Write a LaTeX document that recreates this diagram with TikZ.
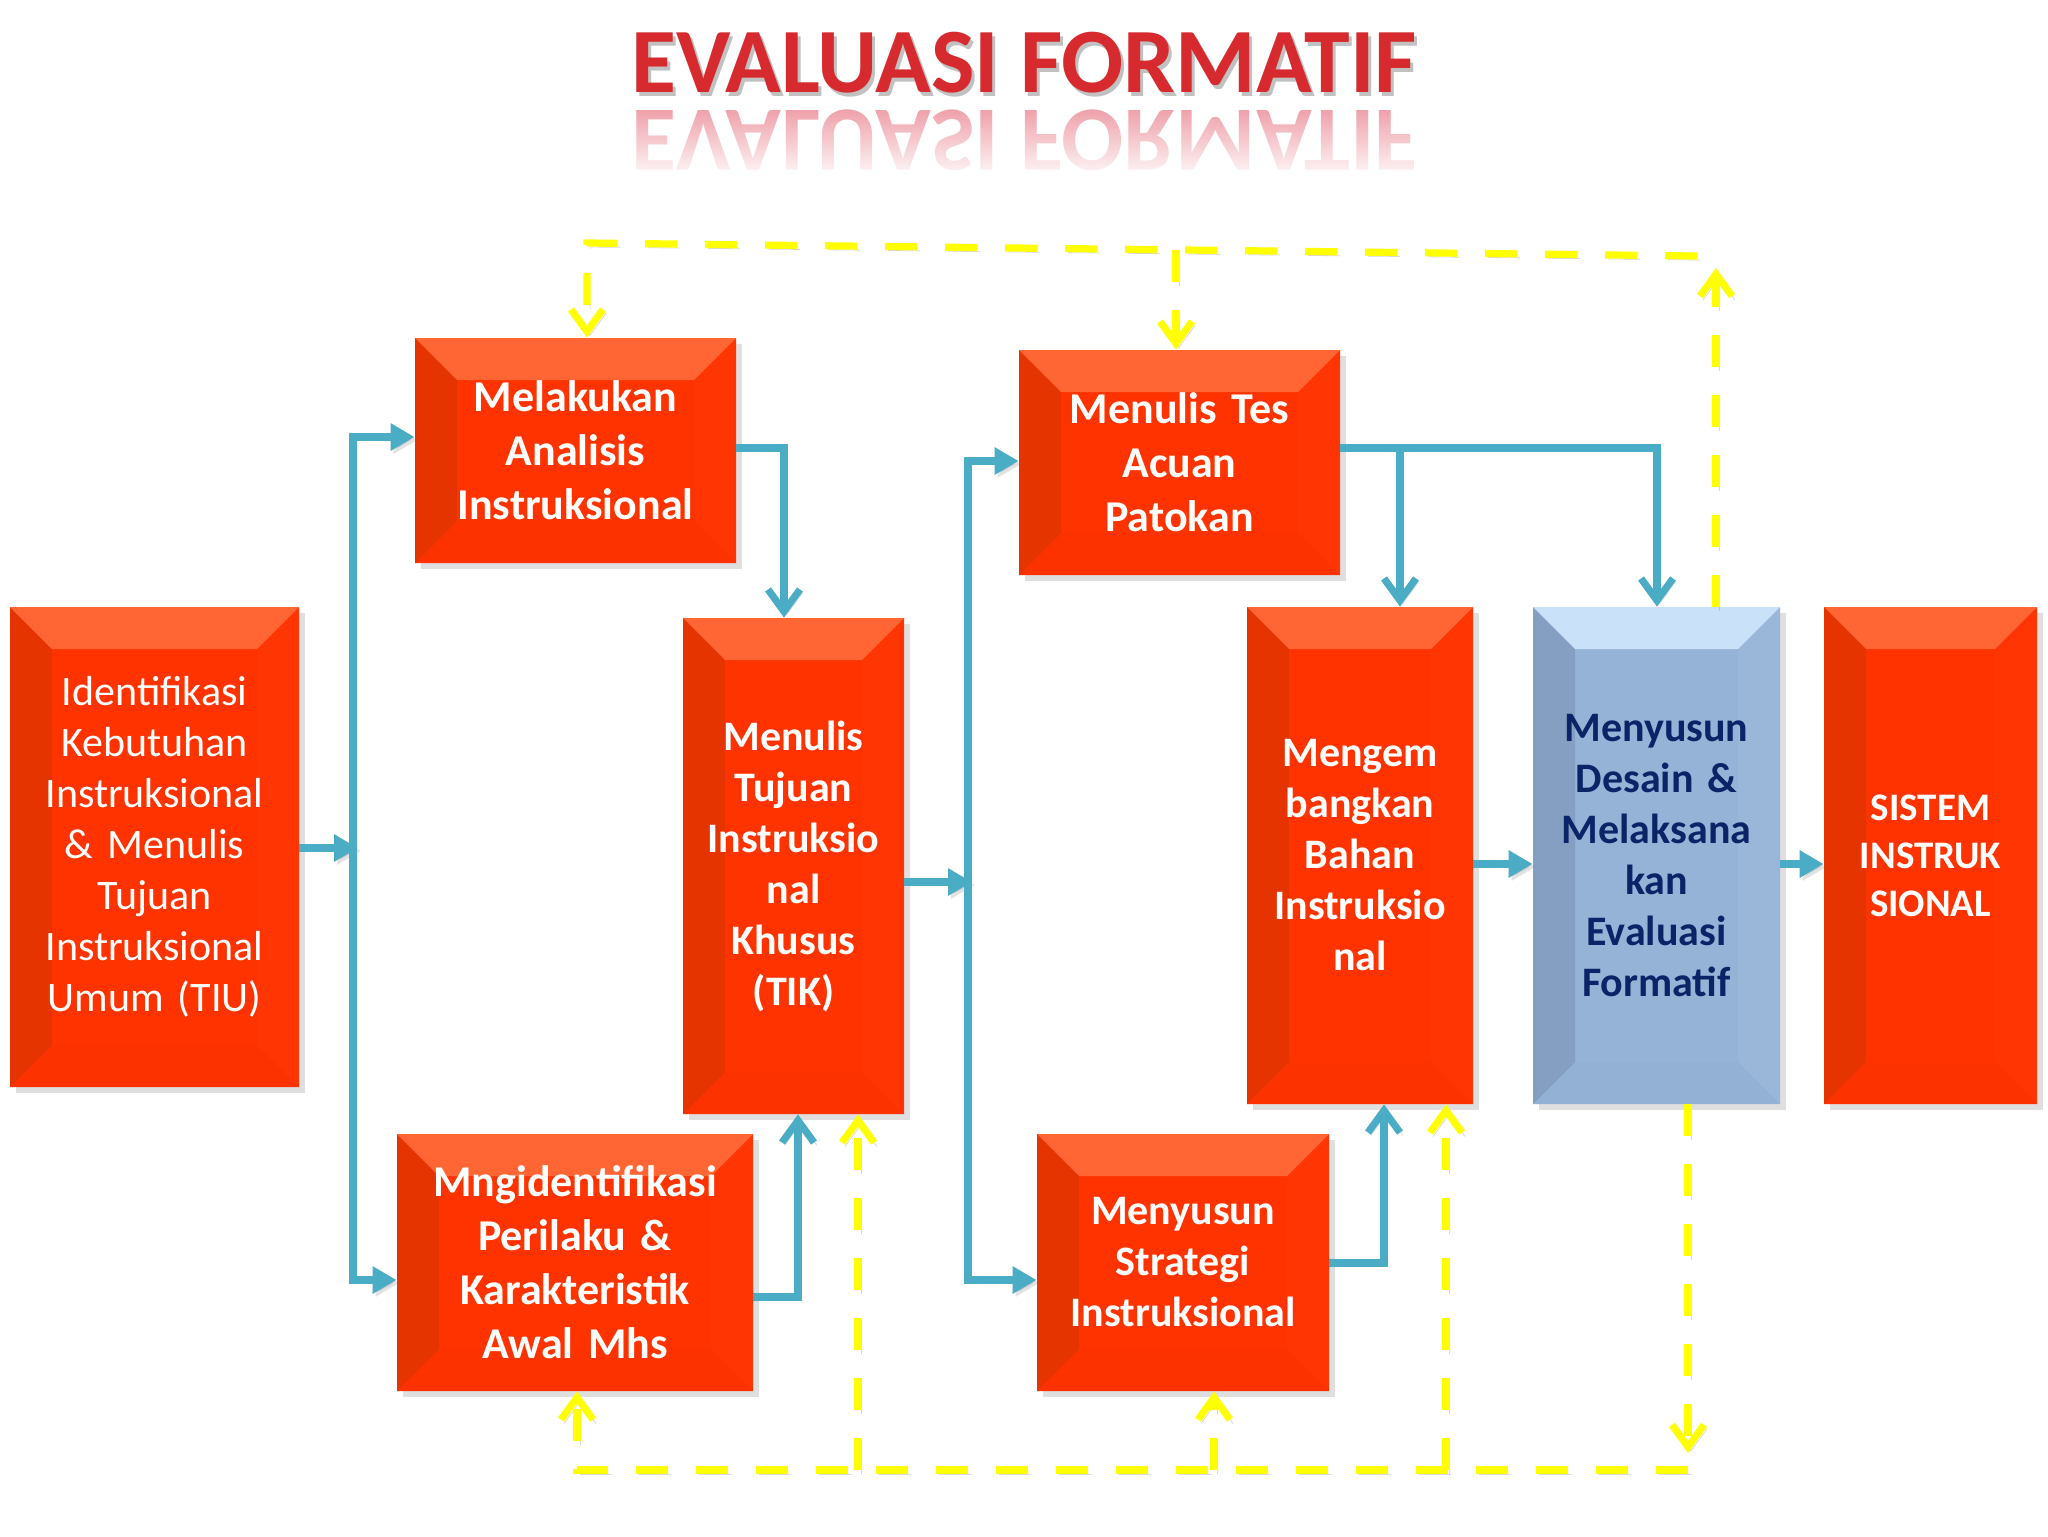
\documentclass[tikz,border=0pt]{standalone}
\usepackage{fontspec}
\setmainfont{Carlito}
\usetikzlibrary{arrows.meta, calc, shadows, fadings}
\definecolor{boxred}{HTML}{FF3300}
\definecolor{redtop}{HTML}{FF6633}
\definecolor{redleft}{HTML}{E53400}
\definecolor{redright}{HTML}{FF3604}
\definecolor{redbot}{HTML}{FC3300}
\definecolor{boxblue}{HTML}{95B3D7}
\definecolor{bluetop}{HTML}{C9E2F9}
\definecolor{blueleft}{HTML}{859FC3}
\definecolor{blueright}{HTML}{9AB7DA}
\definecolor{bluebot}{HTML}{93B1D5}
\definecolor{navy}{HTML}{0A2467}
\definecolor{flowblue}{HTML}{4BACC6}
\definecolor{fbyellow}{HTML}{FFFF00}
\definecolor{titlered}{HTML}{D62A2E}
\definecolor{reflpink}{HTML}{EE9AA4}
\tikzfading[name=reflfade, top color=transparent!100, bottom color=transparent!10]

\begin{document}
\begin{tikzpicture}[x=0.5pt, y=-0.5pt,
  tipT/.tip={Triangle[length=12pt, width=13pt]},
  tipV/.tip={Straight Barb[length=11pt, width=16pt]},
  bevel/.style n args={4}{path picture={
    \fill[#4] (path picture bounding box.south west) -- ([shift={(21pt,21pt)}]path picture bounding box.south west)
      -- ([shift={(-21pt,21pt)}]path picture bounding box.south east) -- (path picture bounding box.south east) -- cycle;
    \fill[#3] (path picture bounding box.north east) -- ([shift={(-21pt,-21pt)}]path picture bounding box.north east)
      -- ([shift={(-21pt,21pt)}]path picture bounding box.south east) -- (path picture bounding box.south east) -- cycle;
    \fill[#2] (path picture bounding box.north west) -- ([shift={(21pt,-21pt)}]path picture bounding box.north west)
      -- ([shift={(21pt,21pt)}]path picture bounding box.south west) -- (path picture bounding box.south west) -- cycle;
    \fill[#1] (path picture bounding box.north west) -- (path picture bounding box.north east)
      -- ([shift={(-21pt,-21pt)}]path picture bounding box.north east) -- ([shift={(21pt,-21pt)}]path picture bounding box.north west) -- cycle;
  }},
  box/.style={rectangle, inner sep=0pt, align=center,
              drop shadow={shadow xshift=3pt, shadow yshift=-3pt, opacity=0.25}},
  redbox/.style={box, fill=boxred, text=white, bevel={redtop}{redleft}{redright}{redbot}},
  bluebox/.style={box, fill=boxblue, text=navy, bevel={bluetop}{blueleft}{blueright}{bluebot}},
  sz/.style 2 args={minimum width=#1, text width=#1, minimum height=#2},
  regtxt/.style={font=\fontsize{21pt}{25.5pt}\selectfont},
  bigtxt/.style={font=\bfseries\fontsize{22pt}{27pt}\selectfont},
  midtxt/.style={font=\bfseries\fontsize{21pt}{25.5pt}\selectfont},
  ttl/.style={font=\bfseries\fontsize{46pt}{55pt}\selectfont, anchor=base, inner sep=0pt},
  flow/.style={line width=3.6pt, draw=flowblue,
               preaction={draw=black!60, opacity=0.18, transform canvas={shift={(1.5pt,-1.5pt)}}}},
  fback/.style={line width=3.6pt, draw=fbyellow, dash pattern=on 16pt off 14pt,
                preaction={draw=black!60, opacity=0.25, dash pattern=on 16pt off 14pt,
                           transform canvas={shift={(1.5pt,-2pt)}}}}
]
  \fill[white] (0,0) rectangle (2048,1536);

  % title with reflection
  \node[ttl, yscale=-1, text=reflpink] (titlerefl) at (1024,111) {EVALUASI FORMATIF};
  \fill[white, path fading=reflfade] (600,104) rectangle (1450,174);
  \node[ttl, text=black!60, opacity=0.4] (titleshadow) at (1027,97) {EVALUASI FORMATIF};
  \node[ttl, text=titlered] (title) at (1024,93) {EVALUASI FORMATIF};

  % boxes
  \node[redbox, regtxt, sz={144.5pt}{240pt}] (tiu) at (154.5,847)
    {Identifikasi\\Kebutuhan\\Instruksional\\\& Menulis\\Tujuan\\Instruksional\\Umum (TIU)};
  \node[redbox, bigtxt, sz={160.5pt}{112.5pt}] (anal) at (575.5,450.5)
    {Melakukan\\Analisis\\Instruksional};
  \node[redbox, midtxt, sz={110.5pt}{248pt}] (tik) at (793.5,866)
    {Menulis\\Tujuan\\Instruksio\\nal\\Khusus\\(TIK)};
  \node[redbox, bigtxt, sz={178pt}{128.5pt}] (peri) at (575,1262.5)
    {Mngidentifikasi\\Perilaku \&\\Karakteristik\\Awal Mhs};
  \node[redbox, midtxt, sz={146pt}{128.5pt}] (strat) at (1183,1262.5)
    {Menyusun\\Strategi\\Instruksional};
  \node[redbox, bigtxt, sz={160.5pt}{112.5pt}] (tes) at (1179.5,462.5)
    {Menulis Tes\\Acuan\\Patokan};
  \node[redbox, midtxt, sz={113pt}{248.5pt}] (bahan) at (1360,855.5)
    {Mengem\\bangkan\\Bahan\\Instruksio\\nal};
  \node[bluebox, midtxt, sz={123.5pt}{248.5pt}] (form) at (1656.5,855.5)
    {Menyusun\\Desain \&\\Melaksana\\kan\\Evaluasi\\Formatif};
  \node[redbox, font=\bfseries\fontsize{19.5pt}{24pt}\selectfont, sz={106.5pt}{248.5pt}] (sistem) at (1930.5,855.5)
    {SISTEM\\INSTRUK\\SIONAL};

  % main flow
  \coordinate (tA) at (358,848);
  \coordinate (sa1) at (353,437);
  \coordinate (sa2) at (353,1280);
  \draw[flow, -tipT] (tiu.east |- tA) -- (tA);
  \draw[flow, tipT-tipT] (sa1 -| anal.west) -- (sa1) -- (sa2) -- (sa2 -| peri.west);
  \coordinate (sb1) at (784,448);
  \coordinate (sb2) at (798,1297);
  \draw[flow, -tipV] (anal.east |- sb1) -- (sb1) -- (sb1 |- tik.north);
  \draw[flow, -tipV] (peri.east |- sb2) -- (sb2) -- (sb2 |- tik.south);
  \coordinate (tC) at (972,882);
  \coordinate (sc1) at (968,461);
  \coordinate (sc2) at (968,1280);
  \draw[flow, -tipT] (tik.east |- tC) -- (tC);
  \draw[flow, tipT-tipT] (sc1 -| tes.west) -- (sc1) -- (sc2) -- (sc2 -| strat.west);
  \coordinate (sd1) at (1400,448);
  \coordinate (sd2) at (1657,448);
  \draw[flow, -tipV] (tes.east |- sd2) -- (sd2) -- (sd2 |- form.north);
  \draw[flow, -tipV] (sd1) -- (sd1 |- bahan.north);
  \coordinate (se1) at (1384,1263);
  \draw[flow, -tipV] (strat.east |- se1) -- (se1) -- (se1 |- bahan.south);
  \coordinate (sf) at (1500,864);
  \draw[flow, -tipT] (bahan.east |- sf) -- (form.west |- sf);
  \draw[flow, -tipT] (form.east |- sf) -- (sistem.west |- sf);

  % feedback, top
  \coordinate (ya) at (1716,268);
  \coordinate (yb) at (1697,256);
  \coordinate (yc) at (587,243);
  \coordinate (yd) at (1176,250);
  \draw[fback, -tipV] (ya |- form.north) -- (ya);
  \draw[fback, -tipV] (yb) -- (yc) -- (yc |- anal.north);
  \draw[fback, -tipV] (yd) -- (yd |- tes.north);

  % feedback, bottom
  \coordinate (yk) at (1688,1453);
  \coordinate (yl) at (1688,1470);
  \coordinate (ym) at (577,1470);
  \coordinate (yn1) at (858,1470);
  \coordinate (yn2) at (1214,1470);
  \coordinate (yn3) at (1446,1470);
  \draw[fback, -tipV] (yk |- form.south) -- (yk);
  \draw[fback, -tipV] (yl) -- (ym) -- (ym |- peri.south);
  \draw[fback, -tipV] (yn1) -- (yn1 |- tik.south);
  \draw[fback, -tipV] (yn2) -- (yn2 |- strat.south);
  \draw[fback, -tipV] (yn3) -- (yn3 |- bahan.south);
\end{tikzpicture}
\end{document}
